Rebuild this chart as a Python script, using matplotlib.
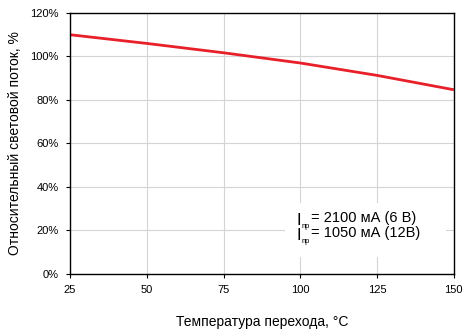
import numpy as np
import matplotlib
matplotlib.use("Agg")
import matplotlib.pyplot as plt
from matplotlib.patches import Rectangle
from matplotlib.ticker import FuncFormatter

plt.rcParams['font.family'] = ['Liberation Sans', 'DejaVu Sans']

# data
temp = [25, 50, 75, 100, 125, 150]
flux = [110, 106, 101.7, 97, 91.3, 84.7]
x_ticks = [25, 50, 75, 100, 125, 150]
y_ticks = [0, 20, 40, 60, 80, 100, 120]
legend_sym = "I"
legend_sub = "пр"
legend_vals = ["= 2100 мА (6 В)", "= 1050 мА (12В)"]

W, H = 465, 330
fig = plt.figure(figsize=(W / 100, H / 100), dpi=100)
ax = fig.add_axes([0.1505, 0.1697, 0.8255, 0.791])

ax.plot(temp, flux, color="#e8202a", lw=2, solid_capstyle="butt")

ax.set_xlim(25, 150)
ax.set_ylim(0, 120)
ax.set_xticks(x_ticks)
ax.set_yticks(y_ticks)
ax.yaxis.set_major_formatter(FuncFormatter(lambda v, p: f"{int(v)}%"))
ax.grid(True, color="#d4d4d4", lw=0.8)
ax.set_axisbelow(True)
ax.tick_params(labelsize=8, length=3, width=0.8, color="black", pad=5)
for s in ax.spines.values():
    s.set_linewidth(1)

ax.set_xlabel("Температура перехода, °С", fontsize=10, labelpad=14)
ax.set_ylabel("Относительный световой поток, %", fontsize=10, labelpad=6)

# white patch behind the legend text
ax.add_patch(Rectangle((0.56, 0.065), 0.42, 0.207, transform=ax.transAxes,
                       facecolor="white", edgecolor="none", zorder=2))


def px(x, y):
    return x / W, 1 - y / H


for i, val in enumerate(legend_vals):
    base = 222 + i * 15
    fig.text(*px(296.5, base + 3), legend_sym, fontsize=12, va="baseline")
    fig.text(*px(301.5, base + 6), legend_sub, fontsize=5.5, va="baseline")
    fig.text(*px(311, base), val, fontsize=10.5, va="baseline")

fig.savefig("out.png", dpi=100)
